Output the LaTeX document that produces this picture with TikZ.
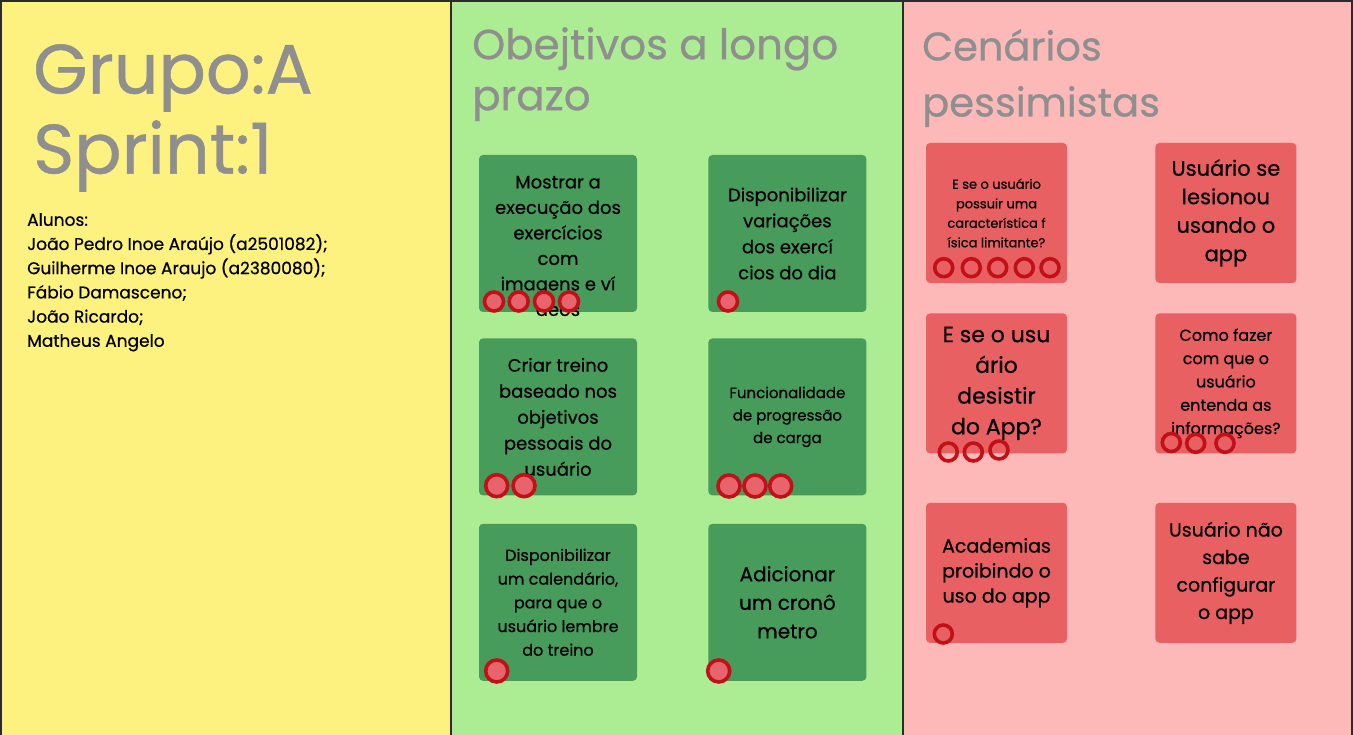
\documentclass[tikz,border=0pt]{standalone}
\usepackage{fontspec}
\setmainfont{Poppins}[FakeBold=0.6]
\usetikzlibrary{positioning}
\definecolor{edgec}{RGB}{43,43,43}
\definecolor{ylwbg}{RGB}{253,241,128}
\definecolor{grnbg}{RGB}{172,237,148}
\definecolor{pnkbg}{RGB}{253,184,184}
\definecolor{grncard}{RGB}{71,156,92}
\definecolor{pnkcard}{RGB}{232,96,97}
\definecolor{ringc}{RGB}{193,16,24}
\definecolor{dotc}{RGB}{232,100,108}
\definecolor{ttlc}{RGB}{143,143,143}
\newcommand{\cardfont}[2]{\fontsize{#1}{#2}\selectfont}

\begin{document}
\begin{tikzpicture}[x=1pt,y=-1pt,
  panel/.style={rectangle,draw=edgec,line width=2pt,anchor=north west,outer sep=0pt,inner sep=0pt,minimum height=740pt},
  ttl/.style={text=ttlc,anchor=north west,align=left,inner sep=0pt},
  card/.style={rectangle,rounded corners=4pt,inner sep=0pt,align=center,text=black},
  gcard/.style={card,fill=grncard,minimum width=158pt,minimum height=157pt},
  pcard/.style={card,fill=pnkcard,minimum width=141pt,minimum height=140pt},
  dot/.style={circle,draw=ringc,line width=3.6pt,inner sep=0pt,minimum size=19pt},
  gdot/.style={dot,fill=dotc},
  bdot/.style={gdot,minimum size=22pt},
  pdot/.style={dot,minimum size=18pt}
]
\useasboundingbox (0,0) rectangle (1353,735);
% colunas
\node[panel,fill=ylwbg,minimum width=450pt] (colA) at (1,1) {};
\node[panel,fill=grnbg,minimum width=452pt] (colB) at (451,1) {};
\node[panel,fill=pnkbg,minimum width=449pt] (colC) at (903,1) {};

% titulos
\node[ttl,font=\cardfont{70}{80}] (grupo) at (33,44) {Grupo:A\\Sprint:1};
\node[ttl,font=\cardfont{17}{24.2},text=black] (alunos) at (27,213) {Alunos:\\João Pedro Inoe Araújo (a2501082);\\Guilherme Inoe Araujo (a2380080);\\Fábio Damasceno;\\João Ricardo;\\Matheus Angelo};
\node[ttl,font=\cardfont{42}{51}] (objt) at (472,27) {Obejtivos a longo\\prazo};
\node[ttl,font=\cardfont{40}{56}] (cena) at (922,29) {Cenários\\pessimistas};

% objetivos
\node[gcard] (g1) at (558,233.5) {};
\node[card,font=\cardfont{18}{25.5}] (g1t) at ([yshift=-12.5pt]g1.center) {Mostrar a\\execução dos\\exercícios\\com\\imagens e ví\\deos};
\node[gcard,right=71pt of g1,font=\cardfont{18}{26}] (g2) {Disponibilizar\\variações\\dos exercí\\cios do dia};
\node[gcard,below=26pt of g1,font=\cardfont{18}{26}] (g3) {Criar treino\\baseado nos\\objetivos\\pessoais do\\usuário};
\node[gcard,right=71pt of g3,font=\cardfont{15}{22.5}] (g4) {Funcionalidade\\de progressão\\de carga};
\node[gcard,below=28pt of g3,font=\cardfont{16}{23.7}] (g5) {Disponibilizar\\um calendário,\\para que o\\usuário lembre\\do treino};
\node[gcard,right=71pt of g5,font=\cardfont{20}{28.5}] (g6) {Adicionar\\um cronô\\metro};

% cenarios
\node[pcard,font=\cardfont{13}{19.5}] (p1) at (996.5,213) {E se o usuário\\possuir uma\\característica f\\ísica limitante?};
\node[pcard,right=88pt of p1,font=\cardfont{21}{28.5}] (p2) {Usuário se\\lesionou\\usando o\\app};
\node[pcard,below=30pt of p1,font=\cardfont{22}{30.7}] (p3) {E se o usu\\ário\\desistir\\do App?};
\node[pcard,right=88pt of p3,font=\cardfont{16}{23.3}] (p4) {Como fazer\\com que o\\usuário\\entenda as\\informações?};
\node[pcard,below=49pt of p3,font=\cardfont{19}{25}] (p5) {Academias\\proibindo o\\uso do app};
\node[pcard,right=88pt of p5,font=\cardfont{19}{27.5}] (p6) {Usuário não\\sabe\\configurar\\o app};

% votos
\node[gdot] (g1a) at (494,301.5) {};
\node[gdot] (g1b) at (518.7,301.5) {};
\node[gdot] (g1c) at (544,301.5) {};
\node[gdot] (g1d) at (569,301.5) {};
\node[gdot] (g2a) at (728,301.5) {};
\node[bdot] (g3a) at (496.7,485.7) {};
\node[bdot] (g3b) at (524,485.7) {};
\node[bdot] (g4a) at (729,486) {};
\node[bdot] (g4b) at (755,486) {};
\node[bdot] (g4c) at (780.7,486) {};
\node[bdot] (g5a) at (496.7,671) {};
\node[bdot] (g6a) at (718.7,671) {};
\node[pdot] (p1a) at (943.7,267.7) {};
\node[pdot] (p1b) at (971.3,267.7) {};
\node[pdot] (p1c) at (997.7,267.7) {};
\node[pdot] (p1d) at (1024.3,267.7) {};
\node[pdot] (p1e) at (1050,267.7) {};
\node[pdot] (p3a) at (948.3,452) {};
\node[pdot] (p3b) at (973.3,452) {};
\node[pdot] (p3c) at (999,450) {};
\node[pdot] (p4a) at (1171.3,442.5) {};
\node[pdot] (p4b) at (1195.7,443.3) {};
\node[pdot] (p4c) at (1225,443.3) {};
\node[pdot] (p5a) at (943.3,634) {};
\end{tikzpicture}
\end{document}
